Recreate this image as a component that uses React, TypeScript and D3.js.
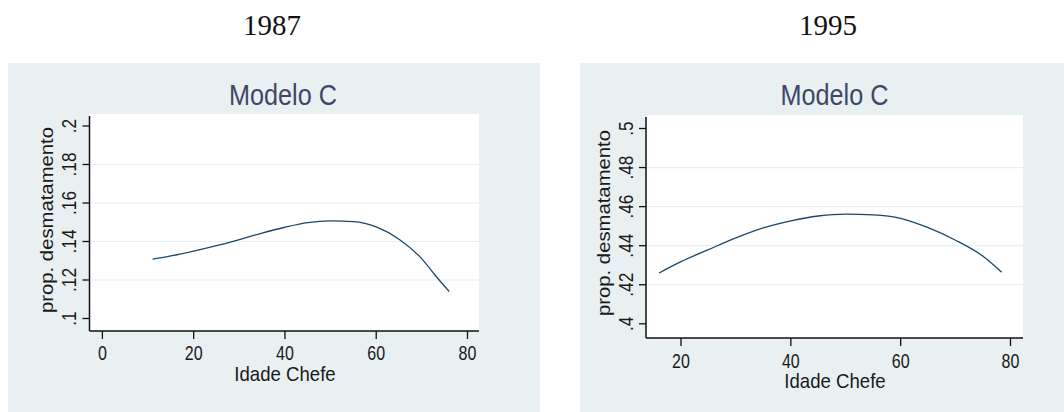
import React from "react";
import * as d3 from "d3";

// ---- data ----
const years = ["1987", "1995"];
const panelTitle = "Modelo C";
const xTitle = "Idade Chefe";
const yTitle = "prop. desmatamento";

const ages1987 = [11, 15, 20, 25, 30, 35, 40, 45, 50, 55, 60, 65, 70, 73, 76];
const prop1987 = [0.1308, 0.1325, 0.135, 0.1378, 0.141, 0.1444, 0.1474, 0.1498, 0.1507, 0.1503, 0.1476, 0.1412, 0.131, 0.1222, 0.114];

const ages1995 = [16, 20, 25, 30, 35, 40, 45, 50, 55, 60, 65, 70, 75, 78.4];
const prop1995 = [0.426, 0.4318, 0.438, 0.444, 0.4491, 0.4527, 0.4552, 0.4562, 0.4558, 0.454, 0.4492, 0.4428, 0.4346, 0.4264];

const xTicks1987 = [0, 20, 40, 60, 80];
const xTicks1995 = [20, 40, 60, 80];
const yTicks1987 = [0.1, 0.12, 0.14, 0.16, 0.18, 0.2];
const yTickLabels1987 = [".1", ".12", ".14", ".16", ".18", ".2"];
const yTicks1995 = [0.4, 0.42, 0.44, 0.46, 0.48, 0.5];
const yTickLabels1995 = [".4", ".42", ".44", ".46", ".48", ".5"];

// ---- styles ----
const BG = "#e8f0f2";
const GRID = "#e6eff1";
const LINE = "#1a476f";
const TITLE = "#3e4766";
const SANS = "'Liberation Sans', Arial, sans-serif";
const SERIF = "'Liberation Serif', 'Times New Roman', serif";

type PanelCfg = {
  year: string;
  ages: number[];
  props: number[];
  xTicks: number[];
  yTicks: number[];
  yLabels: string[];
  bg: [number, number, number, number];
  plot: [number, number, number, number]; // left, top, right, bottom
  xDomain: [number, number];
  xRange: [number, number];
  yDomain: [number, number];
  yRange: [number, number];
  yearX: number;
  titleX: number;
  xTitleX: number;
  xTickBase: number;
  xTitleBase: number;
  yTickBase: number;
  yTitleBase: number;
  yTitleY: number;
};

const panels: PanelCfg[] = [
  {
    year: years[0],
    ages: ages1987,
    props: prop1987,
    xTicks: xTicks1987,
    yTicks: yTicks1987,
    yLabels: yTickLabels1987,
    bg: [8, 63, 540, 412],
    plot: [89.5, 114, 479, 331],
    xDomain: [0, 80],
    xRange: [102.4, 467.5],
    yDomain: [0.1, 0.2],
    yRange: [318.5, 126],
    yearX: 272,
    titleX: 283,
    xTitleX: 285,
    xTickBase: 360,
    xTitleBase: 381,
    yTickBase: 75.5,
    yTitleBase: 53,
    yTitleY: 220,
  },
  {
    year: years[1],
    ages: ages1995,
    props: prop1995,
    xTicks: xTicks1995,
    yTicks: yTicks1995,
    yLabels: yTickLabels1995,
    bg: [580, 63, 1064, 412],
    plot: [646, 115, 1023, 338],
    xDomain: [20, 80],
    xRange: [681, 1010.5],
    yDomain: [0.4, 0.5],
    yRange: [323.8, 128.5],
    yearX: 828,
    titleX: 834.5,
    xTitleX: 835,
    xTickBase: 368,
    xTitleBase: 388,
    yTickBase: 633,
    yTitleBase: 609.5,
    yTitleY: 223,
  },
];

function Panel({ c }: { c: PanelCfg }) {
  const x = d3.scaleLinear().domain(c.xDomain).range(c.xRange);
  const y = d3.scaleLinear().domain(c.yDomain).range(c.yRange);
  const [pl, pt, pr, pb] = c.plot;
  const pts: [number, number][] = c.ages.map((a, i) => [a, c.props[i]]);
  const path = d3
    .line<[number, number]>()
    .x((d) => x(d[0]))
    .y((d) => y(d[1]))
    .curve(d3.curveMonotoneX)(pts) as string;
  const innerTicks = c.yTicks.slice(1, -1);

  return (
    <g>
      <text x={c.yearX} y={35} textAnchor="middle" fontFamily={SERIF} fontSize={29} fill="#111">
        {c.year}
      </text>
      <rect x={c.bg[0]} y={c.bg[1]} width={c.bg[2] - c.bg[0]} height={c.bg[3] - c.bg[1]} fill={BG} />
      <text
        x={c.titleX}
        y={105}
        textAnchor="middle"
        fontFamily={SANS}
        fontSize={30}
        fill={TITLE}
        textLength={108}
        lengthAdjust="spacingAndGlyphs"
      >
        {panelTitle}
      </text>
      <rect x={pl} y={pt} width={pr - pl} height={pb - pt} fill="#fff" />
      {innerTicks.map((t) => (
        <line key={"g" + t} x1={pl} x2={pr} y1={y(t)} y2={y(t)} stroke={GRID} strokeWidth={1.2} />
      ))}
      <path d={path} fill="none" stroke={LINE} strokeWidth={1.3} />
      {/* axes */}
      <line x1={pl} x2={pl} y1={pt + 2} y2={pb} stroke="#111" strokeWidth={1.5} />
      <line x1={pl} x2={pr} y1={pb} y2={pb} stroke="#111" strokeWidth={1.5} />
      {c.xTicks.map((t) => (
        <g key={"x" + t}>
          <line x1={x(t)} x2={x(t)} y1={pb} y2={pb + 8} stroke="#111" strokeWidth={1.3} />
          <text
            transform={`translate(${x(t)},${c.xTickBase}) scale(0.8,1)`}
            textAnchor="middle"
            fontFamily={SANS}
            fontSize={20}
            fill="#1a1a1a"
          >
            {t}
          </text>
        </g>
      ))}
      {c.yTicks.map((t, i) => (
        <g key={"y" + t}>
          <line x1={pl - 7} x2={pl} y1={y(t)} y2={y(t)} stroke="#111" strokeWidth={1.3} />
          <text
            transform={`translate(${c.yTickBase},${y(t)}) rotate(-90) scale(0.82,1)`}
            textAnchor="middle"
            fontFamily={SANS}
            fontSize={21}
            fill="#1a1a1a"
          >
            {c.yLabels[i]}
          </text>
        </g>
      ))}
      <text
        transform={`translate(${c.xTitleX},${c.xTitleBase}) scale(0.93,1)`}
        textAnchor="middle"
        fontFamily={SANS}
        fontSize={20}
        fill="#1a1a1a"
      >
        {xTitle}
      </text>
      <text
        transform={`translate(${c.yTitleBase},${c.yTitleY}) rotate(-90)`}
        textAnchor="middle"
        fontFamily={SANS}
        fontSize={19}
        fill="#1a1a1a"
        textLength={186}
        lengthAdjust="spacingAndGlyphs"
      >
        {yTitle}
      </text>
    </g>
  );
}

export default function App() {
  return (
    <svg
      width={1064}
      height={412}
      viewBox="0 0 1064 412"
      style={{ position: "absolute", left: 0, top: 0, background: "#fff" }}
    >
      <rect x={0} y={0} width={1064} height={412} fill="#fff" />
      {panels.map((p) => (
        <Panel key={p.year} c={p} />
      ))}
    </svg>
  );
}
